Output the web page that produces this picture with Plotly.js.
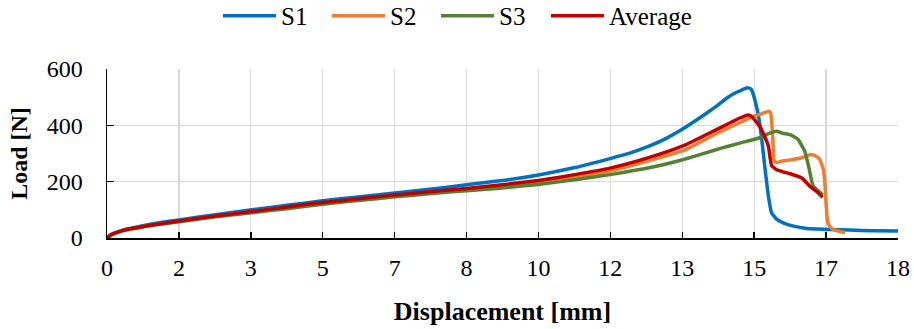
<!DOCTYPE html>
<html>
<head>
<meta charset="utf-8">
<script src="https://cdn.plot.ly/plotly-3.0.1.min.js"></script>
<style>html,body{margin:0;padding:0;background:#fff;}#chart{width:914px;height:329px;}</style>
</head>
<body>
<div id="chart"></div>
<script>
// Series data (Displacement [mm], Load [N])
const s1X = [0,0.1,0.25,0.45,0.8,1.2,1.66,2.5,3.34,4.2,4.98,5.8,6.65,7.5,8.3,9.07,9.96,10.8,11.61,12.1,12.54,12.9,13.27,13.6,13.84,14.07,14.31,14.5,14.61,14.72,14.80,14.87,14.92,14.98,15.04,15.1,15.15,15.21,15.27,15.34,15.45,15.61,15.85,16.15,16.54,17.15,17.7,18.26];
const s1Y = [0,13,22,31,43,54,64,83,100,117,132,146,160,174,189,203,224,250,282,303,328,353,385,418,443,468,497,515,522,530,533,528,510,475,432,370,302,220,147,90,68,54,42,34,31,28,26,25];

const s2X = [0,0.1,0.25,0.45,0.8,1.2,1.66,2.5,3.34,4.2,4.98,5.8,6.65,7.5,8.3,9.07,9.96,10.8,11.61,12.54,13.31,14.07,14.5,14.84,14.92,15.1,15.27,15.32,15.35,15.37,15.40,15.46,15.61,15.8,16.04,16.23,16.35,16.45,16.54,16.57,16.59,16.63,16.68,16.75,16.9,17.04];
const s2Y = [0,12,21,29,39,49,59,77,93,109,124,137,150,162,173,182,198,216,238,276,311,371,402,426,432,440,450,444,400,350,275,268,274,278,285,296,292,280,242,200,147,64,42,32,24,19];

const s3X = [0,0.1,0.25,0.45,0.8,1.2,1.66,2.5,3.34,4.2,4.98,5.8,6.65,7.5,8.3,9.07,9.96,10.8,11.61,12.54,13.27,13.69,14.2,14.61,15.07,15.3,15.46,15.6,15.77,15.96,16.05,16.11,16.21,16.27,16.31,16.4,16.52];
const s3Y = [0,12,21,29,39,49,58,75,90,105,120,133,146,158,168,177,190,207,225,250,277,296,320,337,356,372,379,372,367,349,325,307,245,200,183,170,153];

const avgX = [0,0.1,0.25,0.45,0.8,1.2,1.66,2.5,3.34,4.2,4.98,5.8,6.65,7.5,8.3,9.07,9.96,10.8,11.61,12.54,13.31,14.07,14.4,14.61,14.72,14.80,14.88,14.96,15.07,15.17,15.27,15.34,15.46,15.6,15.77,16.04,16.23,16.38,16.45,16.52];
const avgY = [0,12,21,30,40,50,60,78,94,111,126,139,153,165,176,188,204,225,248,287,328,385,410,426,433,437,432,418,396,365,325,258,242,235,228,213,183,165,155,145];

const seriesNames = ['S1','S2','S3','Average'];
const seriesColors = ['#0070C0','#ED7D31','#548235','#C00000'];
const seriesLegends = ['legend','legend','legend','legend2'];

// Axis ticks (Excel major unit ~1.66, labels rounded to integers)
const xTickVals = [0,1.66,3.32,4.98,6.64,8.3,9.96,11.62,13.28,14.94,16.6,18.26];
const xTickText = ['0','2','3','5','7','8','10','12','13','15','17','18'];
const yTickVals = [0,200,400,600];
const yTickText = ['0','200','400','600'];

const FONT = '"Times New Roman", "Liberation Serif", serif';
const xs = [s1X,s2X,s3X,avgX], ys = [s1Y,s2Y,s3Y,avgY];
const traces = xs.map((x,i)=>({
  x: x, y: ys[i], type:'scatter', mode:'lines', name: seriesNames[i], legend: seriesLegends[i],
  line:{color: seriesColors[i], width:3.5, shape:'spline', smoothing:0.4}
}));

const legFont = {family:FONT, size:25, color:'#000'};
const layout = {
  width:914, height:329,
  margin:{l:107, r:16, t:69, b:91, autoexpand:false},
  paper_bgcolor:'#fff', plot_bgcolor:'#fff',
  font:{family:FONT, size:24, color:'#000'},
  showlegend:true,
  legend:{orientation:'h', xref:'container', yref:'container', x:0.2385, xanchor:'left', y:0.9514, yanchor:'middle',
          font:legFont, itemwidth:53, entrywidth:41, traceorder:'normal', bgcolor:'rgba(0,0,0,0)'},
  legend2:{orientation:'h', xref:'container', yref:'container', x:0.5974, xanchor:'left', y:0.9514, yanchor:'middle',
          font:legFont, itemwidth:53, bgcolor:'rgba(0,0,0,0)'},
  xaxis:{range:[0,18.26], tickmode:'array', tickvals:xTickVals, ticktext:xTickText,
         showgrid:true, gridcolor:'#d9d9d9', gridwidth:1.3, zeroline:false,
         showline:true, linecolor:'#000', linewidth:1.5, ticks:'inside', ticklen:6, tickcolor:'#000', tickwidth:1.5,
         tickfont:{family:FONT,size:24,color:'#000'}, ticklabelstandoff:8,
         title:{text:'<b>Displacement [mm]</b>', font:{family:FONT,size:26,color:'#000'}, standoff:21}},
  yaxis:{range:[0,600], tickmode:'array', tickvals:yTickVals, ticktext:yTickText,
         showgrid:true, gridcolor:'#d9d9d9', gridwidth:1.3, zeroline:false,
         showline:true, linecolor:'#000', linewidth:1.5, ticks:'inside', ticklen:7, tickcolor:'#000', tickwidth:1.5,
         tickfont:{family:FONT,size:24,color:'#000'}, ticklabelstandoff:18,
         title:{text:'<b>Load [N]</b>', font:{family:FONT,size:24,color:'#000'}, standoff:12}}
};
Plotly.newPlot('chart', traces, layout, {displayModeBar:false, staticPlot:true});
</script>
</body>
</html>
